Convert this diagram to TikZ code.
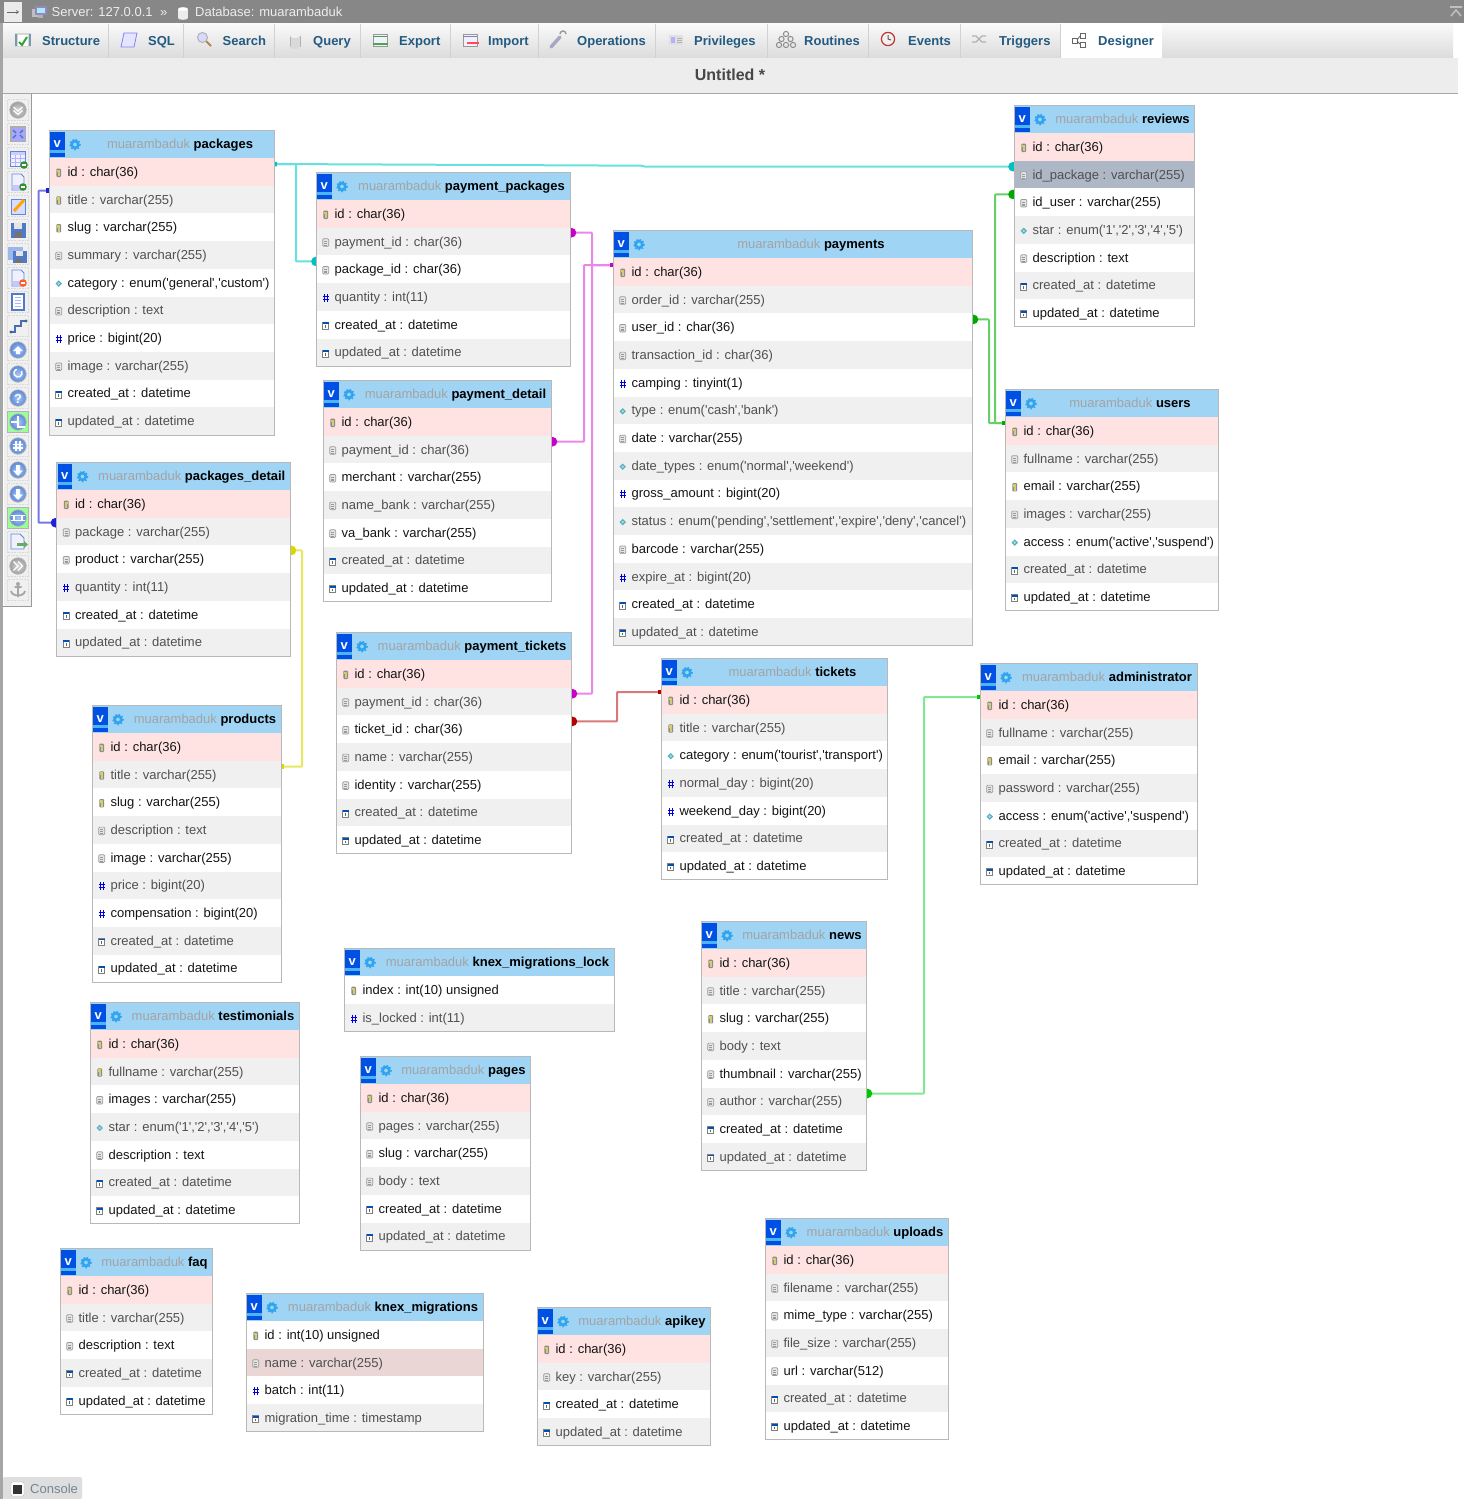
\documentclass[tikz,border=0pt]{standalone}
\usepackage{fontspec}
\usetikzlibrary{arrows.meta,shapes.geometric}
\newfontfamily\appfont{Liberation Sans}
\pgfdeclarelayer{bgl}\pgfdeclarelayer{connl}
\pgfsetlayers{bgl,connl,main}
\definecolor{rowpink}{HTML}{FFE3E3}
\definecolor{rowgray}{HTML}{F0F0F0}
\definecolor{rowsel}{HTML}{AEB7C5}
\definecolor{rowname}{HTML}{EBD6D6}
\definecolor{txgray}{HTML}{505050}
\definecolor{txdark}{HTML}{141414}
\definecolor{hdrlight}{HTML}{D4F1FF}
\definecolor{hdrmain}{HTML}{A0D4F4}
\definecolor{tabtx}{HTML}{235A81}
\definecolor{vblue}{HTML}{0050E4}
\definecolor{vstrip}{HTML}{4FB4F4}
\definecolor{gearblue}{HTML}{30A4F0}
\definecolor{blueball}{HTML}{5A88DC}
\definecolor{ballin}{HTML}{A8C6F2}
\definecolor{tooledge}{HTML}{9A9A9A}
\definecolor{diam}{HTML}{58AFC2}
\definecolor{lineteal}{HTML}{68E0E0}\definecolor{dotteal}{HTML}{00C0C0}
\definecolor{linemag}{HTML}{EA88EA}\definecolor{dotmag}{HTML}{C800C8}
\definecolor{linegreen}{HTML}{66D066}\definecolor{dotgreen}{HTML}{00A800}
\definecolor{linelime}{HTML}{80E890}\definecolor{dotlime}{HTML}{00C800}
\definecolor{lineblue}{HTML}{7878E4}\definecolor{dotblue}{HTML}{2020D8}
\definecolor{lineyel}{HTML}{E8E860}\definecolor{dotyel}{HTML}{D8D800}
\definecolor{linered}{HTML}{D87878}\definecolor{dotred}{HTML}{B80000}
\pgfdeclareverticalshading{hdrsh}{100bp}{color(0bp)=(hdrmain); color(78bp)=(hdrmain); color(92bp)=(hdrlight); color(100bp)=(hdrlight)}
\newcount\rowc
\tikzset{
 every node/.style={font=\appfont\fontsize{13}{15}\selectfont},
 rownode/.style={rectangle,inner sep=0pt,outer sep=0pt,minimum height=27.7pt,anchor=north west},
 hdrnode/.style={rectangle,inner sep=0pt,outer sep=0pt,minimum height=28pt,anchor=north west,shading=hdrsh},
 tblborder/.style={draw=black!28,line width=1pt},
 tabtext/.style={font=\appfont\bfseries\fontsize{13}{15}\selectfont,text=tabtx,inner sep=0pt,anchor=base west},
 barsep/.style={draw=black!18,line width=1pt},
 conn/.style={line width=2pt,rounded corners=0.8pt,line join=round},
 cteal/.style={conn,draw=lineteal,-{Square[length=3pt,width=4.5pt,color=dotteal]}},
 cmag/.style={conn,draw=linemag,-{Square[length=3pt,width=4.5pt,color=dotmag]}},
 cgreen/.style={conn,draw=linegreen,-{Square[length=3pt,width=4.5pt,color=dotgreen]}},
 clime/.style={conn,draw=linelime,-{Square[length=3pt,width=4.5pt,color=dotlime]}},
 cblue/.style={conn,draw=lineblue,-{Square[length=3pt,width=4.5pt,color=dotblue]}},
 cyel/.style={conn,draw=lineyel,-{Square[length=3pt,width=4.5pt,color=dotyel]}},
 cred/.style={conn,draw=linered,-{Square[length=3pt,width=4.5pt,color=dotred]}},
 slot/.style={draw=black!15,line width=.6pt,densely dotted},
 pagefill/.style={draw=blueball,line width=.8pt,fill=blue!6},
 ball/.style={inner color=ballin,outer color=blueball},
 grayball/.style={inner color=black!15,outer color=black!38},
}
% row icons
\newcommand\iconK[2]{\begin{scope}[shift={(#1,#2)}]
 \fill[black!45,rounded corners=1pt] (-2.4,-4.2) rectangle (2.4,4.2);
 \fill[yellow!75!black!75] (-1.4,-3.2) rectangle (1.4,-.4);
 \fill[yellow!65!black!60] (-1,-.4) rectangle (1,3.4);
 \end{scope}}
\newcommand\iconT[2]{\begin{scope}[shift={(#1,#2)}]
 \draw[black!40,fill=black!10,line width=.7pt,rounded corners=1pt] (-3,-3.8) rectangle (3,3.8);
 \draw[black!40,line width=.5pt] (-1.6,-1.4)--(1.6,-1.4) (-1.6,.6)--(1.6,.6) (-1.6,2.4)--(1.6,2.4);
 \end{scope}}
\newcommand\iconE[2]{\begin{scope}[shift={(#1,#2)}]
 \fill[diam] (0,-3.2)--(3.2,0)--(0,3.2)--(-3.2,0)--cycle;
 \fill[diam!50!white] (0,-1.4)--(1.4,0)--(0,1.4)--(-1.4,0)--cycle;
 \end{scope}}
\newcommand\iconN[2]{\begin{scope}[shift={(#1,#2)}]
 \draw[blue!85!black,line width=1pt] (-1.5,-4)--(-1.5,4) (1.5,-4)--(1.5,4) (-3.2,-1.5)--(3.2,-1.5) (-3.2,1.5)--(3.2,1.5);
 \end{scope}}
\newcommand\iconD[2]{\begin{scope}[shift={(#1,#2)}]
 \draw[black!50,fill=white,line width=.7pt] (-3,-3.2) rectangle (3,3.8);
 \fill[blue!55!cyan!70!black] (-3,-3.2) rectangle (3,-1.4);
 \draw[black!60,line width=.7pt] (0,-.4)--(0,2.4);
 \end{scope}}
% table
\newcommand\tbl[5]{\gdef\tn{#1}\gdef\txa{#2}\gdef\txb{#3}\gdef\ttop{#4}\global\rowc=0
 \pgfmathsetmacro\tw{#3-#2}
 \pgfmathsetmacro\tc{\tw-37}
 \node[hdrnode,minimum width=\tw pt] (#1) at (#2,#4)
  {\makebox[\tw pt][l]{\hspace{37pt}\makebox[\tc pt][c]{\rule[-3pt]{0pt}{14.6pt}\textcolor{black!36}{muarambaduk} \textcolor{black}{\bfseries #5}}}};
 \begin{scope}[shift={(#2,#4)}]
  \fill[vblue] (1,2) rectangle (15.5,27);
  \fill[vstrip] (1,20) rectangle (15.5,23);
  \draw[gearblue,line width=2.6pt] (26,14.5) circle (3.4);
  \draw[gearblue,line width=1.3pt,dash pattern=on 1.6pt off 1.9pt] (26,14.5) circle (5.2);
 \end{scope}
 \node[text=white,inner sep=0pt,font=\appfont\bfseries\fontsize{13}{15}\selectfont] (#1-v) at (#2+8.2,#4+14) {v};
}
\newcommand\row[3][]{%
 \pgfmathsetmacro\ry{\ttop+28+27.7*\the\rowc}%
 \pgfmathsetmacro\rc{\ry+14.8}%
 \pgfmathsetmacro\rix{\txa+9.7}%
 \ifnum\rowc=0 \def\rf{rowpink}\def\rt{txdark}\else\ifodd\rowc \def\rf{rowgray}\def\rt{txgray}\else\def\rf{white}\def\rt{txdark}\fi\fi
 \ifx&#1&\else\def\rf{#1}\fi
 \node[rownode,fill=\rf,text=\rt,minimum width=\tw pt] (\tn-\the\rowc) at (\txa,\ry)
  {\makebox[\tw pt][l]{\hspace{18.6pt}\rule[-3pt]{0pt}{15pt}#3}};
 \csname icon#2\endcsname{\rix}{\rc}%
 \global\advance\rowc by 1 }
\newcommand\tblend{\pgfmathsetmacro\rb{\ttop+28+27.7*\the\rowc}%
 \draw[tblborder] (\txa,\ttop) rectangle (\txb,\rb);}
\newcommand\jdot[2]{\fill[#1] #2 circle (4.8);}
% toolbar & tab icons
\newcommand\tball[2]{\shade[#2] (18,#1) circle (8.2);\draw[black!30,line width=.8pt] (18,#1) circle (8.2);}
\newcommand\tpage[2]{\begin{scope}[shift={(18,#1)}]\draw[pagefill] (-6,-8)--(3,-8)--(6,-5)--(6,8)--(-6,8)--cycle;\fill[blue!22!white] (-5.5,3) rectangle (5.5,7.5);\fill[#2] (5,5) circle (3.8);\fill[white] (3,4.4) rectangle (7,5.6);\end{scope}}
\begin{document}
\begin{tikzpicture}[x=1pt,y=-1pt,line cap=butt]
\useasboundingbox (0,0) rectangle (1464,1499);
\begin{pgfonlayer}{bgl}\fill[white] (0,0) rectangle (1464,1499);\end{pgfonlayer}
% chrome
\fill[black!35] (0,23) rectangle (3,1499);
\fill[black!47] (0,0) rectangle (1464,23);
\shade[top color=white!98!black,bottom color=black!14] (3,23) rectangle (1453,58);
\fill[white] (1060,23) rectangle (1162,58);
\fill[black!7] (3,58) rectangle (1458,93);
\draw[black!35,line width=1.4pt] (3,93.3)--(1458,93.3);
\foreach \sx in {108,183,274,360,450,538,655,767,868,960,1060}{\draw[barsep] (\sx,24)--(\sx,58);}
% top bar
\fill[black!8] (4,2) rectangle (22,22);
\draw[black!60,line width=.8pt,-{Straight Barb[length=2pt,width=3pt]}] (7,12)--(19,12);
\begin{scope}[shift={(40,12)}]
 \fill[black!25] (-8,-3) rectangle (2,5);\fill[blue!45!black!45] (-5,-6) rectangle (7,3);\fill[cyan!30] (-3,-4) rectangle (5,1);\fill[black!30] (-2,3) rectangle (3,6);
\end{scope}
\node[anchor=base west,inner sep=0pt,text=black!7] (srv) at (51.5,16.5) {Server: 127.0.0.1};
\node[anchor=base west,inner sep=0pt,text=black!7] (sep) at (160,16.5) {»};
\begin{scope}[shift={(183,13)}]
 \fill[black!7] (-5,-4) rectangle (5,5);\fill[white] (0,-4) ellipse (5 and 1.8);\fill[black!7] (0,5) ellipse (5 and 1.8);
\end{scope}
\node[anchor=base west,inner sep=0pt,text=black!7] (dbn) at (195,16.5) {Database: muarambaduk};
\begin{scope}[shift={(1456,12)}]
 \draw[black!25,line width=1.6pt] (-6,-5)--(6,-5) (-5,4)--(0,-2)--(5,4);
\end{scope}
% tabs
\node[tabtext] (tab1) at (42,45.5) {Structure};
\node[tabtext] (tab2) at (148,45.5) {SQL};
\node[tabtext] (tab3) at (222.5,45.5) {Search};
\node[tabtext] (tab4) at (313,45.5) {Query};
\node[tabtext] (tab5) at (399,45.5) {Export};
\node[tabtext] (tab6) at (488,45.5) {Import};
\node[tabtext] (tab7) at (577,45.5) {Operations};
\node[tabtext] (tab8) at (694,45.5) {Privileges};
\node[tabtext] (tab9) at (804,45.5) {Routines};
\node[tabtext] (tab10) at (908,45.5) {Events};
\node[tabtext] (tab11) at (999,45.5) {Triggers};
\node[tabtext] (tab12) at (1098,45.5) {Designer};
% tab icons
\begin{scope}[shift={(23,40)}]\fill[black!16] (-8,-7) rectangle (8,7);\fill[white] (-5,-5) rectangle (5,6);\draw[cyan!50!black!70,line width=2pt] (-7,-6)--(-7,6) (7,-6)--(7,6);\draw[green!55!black!80,line width=2pt] (-4,2)--(-1,5)--(4,-3);\end{scope}
\begin{scope}[shift={(129,40)}]\draw[blue!50,fill=blue!10,line width=.8pt] (-5,-7)--(8,-7)--(5,7)--(-8,7)--cycle;\end{scope}
\begin{scope}[shift={(204,39)}]\draw[orange!60!black!70,line width=2pt] (2,2)--(7,7);\draw[black!30,fill=blue!15,line width=1pt] (-1.5,-1.5) circle (5);\end{scope}
\begin{scope}[shift={(295,41)}]\fill[black!15] (-5,-5) rectangle (5,6);\draw[black!30] (-5,-5)--(-5,6) (5,-5)--(5,6);\fill[black!15] (0,6) ellipse (5 and 2);\fill[black!6] (0,-5) ellipse (5 and 2);\end{scope}
\begin{scope}[shift={(380,40)}]\draw[black!40,fill=blue!6,line width=.8pt] (-7,-6) rectangle (7,6);\fill[green!45!black!70] (-7,-4) rectangle (7,-2.6);\draw[green!50!black!70,line width=1.2pt] (-7,4)--(8,4);\end{scope}
\begin{scope}[shift={(470,40)}]\draw[black!40,fill=blue!6,line width=.8pt] (-7,-6) rectangle (7,6);\fill[blue!40!black!50] (-7,-4) rectangle (7,-2.6);\draw[red!70,line width=1.5pt] (-3,3)--(9,3);\end{scope}
\begin{scope}[shift={(557,40)}]\draw[blue!35!black!35,line width=3.4pt,line cap=round] (-6,7)--(3,-3);\draw[black!40,line width=1.4pt,fill=none] (3,-6) arc (180:360:3);\end{scope}
\begin{scope}[shift={(676,40)}]\fill[black!12] (-7,-5) rectangle (7,5);\fill[blue!30] (-5,-3) rectangle (-1,3);\draw[black!30,line width=.8pt] (1,-2)--(6,-2) (1,0)--(6,0) (1,2)--(6,2);\end{scope}
\begin{scope}[shift={(786,40)}]\foreach \gx/\gy in {0/-6,-4.5/-1,4.5/-1,-7/5,0/5,7/5}{\draw[black!45,line width=1pt] (\gx,\gy) circle (2.6);}\end{scope}
\begin{scope}[shift={(888,39)}]\draw[red!70!black!80,line width=1.2pt,fill=black!6] (0,0) circle (6.6);\draw[black!65,line width=1pt] (0,-4)--(0,0)--(3,1);\end{scope}
\begin{scope}[shift={(979,39)}]\draw[black!30,line width=1.2pt] (-7,-3)--(-3,-3)--(3,3)--(7,3) (-7,3)--(-3,3)--(3,-3)--(7,-3);\end{scope}
\begin{scope}[shift={(1079,40)}]\draw[black!60,fill=white,line width=.8pt] (-7,-2) rectangle (-2,3) (1,-7) rectangle (6,-2) (1,2) rectangle (6,7);\draw[black!60,line width=.8pt] (-2,0)--(1,-4) (-2,1)--(1,4);\end{scope}
\node[font=\appfont\bfseries\fontsize{16}{18}\selectfont,text=black!72,inner sep=0pt] (ttl) at (730,75) {Untitled *};
% toolbar
\fill[black!6] (4,94) rectangle (31,606);
\draw[tooledge,line width=1pt] (31,94)--(31,606)--(3,606);
\foreach \i in {0,...,20}{\pgfmathsetmacro\sy{110+24*\i}\draw[slot] (7.5,\sy-10.5) rectangle (28.5,\sy+10.5);}
\fill[green!40!white] (7.5,411.5) rectangle (28.5,432.5);\draw[black!30] (7.5,411.5) rectangle (28.5,432.5);
\fill[green!40!white] (7.5,507.5) rectangle (28.5,528.5);\draw[black!30] (7.5,507.5) rectangle (28.5,528.5);
\tball{110}{grayball}\draw[white,line width=1.2pt] (13.5,107)--(18,111)--(22.5,107) (13.5,110.5)--(18,114.5)--(22.5,110.5);
\fill[black!32] (10,126) rectangle (26,142);\fill[blue!35!white] (11.5,127.5) rectangle (24.5,140.5);\draw[blueball!80!black,line width=1.4pt] (13,130)--(16,133) (23,130)--(20,133) (13,138)--(16,135) (23,138)--(20,135);
\draw[pagefill] (10,151) rectangle (25,166);\fill[blue!20] (10.5,151.5) rectangle (24.5,154.5);\draw[blue!30,line width=.5pt] (15,155)--(15,166) (20,155)--(20,166) (10,158)--(25,158) (10,162)--(25,162);\fill[green!45!black!80] (24,165) circle (3.8);\fill[white] (22,164.4) rectangle (26,165.6);
\tpage{182}{green!45!black!80}
\begin{scope}[shift={(18,206)}]\draw[pagefill,fill=blue!14] (-7,-7) rectangle (7,8);\draw[orange!70!yellow,line width=3pt] (-4,5)--(6,-6);\end{scope}
\begin{scope}[shift={(18,230)}]\fill[blueball!90!black] (-7.5,-7.5) rectangle (7.5,7.5);\fill[black!10] (-4,-7.5) rectangle (4,-1);\fill[black!55] (-3,2) rectangle (4,7.5);\end{scope}
\begin{scope}[shift={(18,254)}]\fill[blueball!60!white] (-10,-7.5) rectangle (5,6);\fill[blueball!90!black] (-5,-3) rectangle (9,9);\fill[black!10] (-2,-3) rectangle (5,2);\fill[black!55] (-2,5) rectangle (4,9);\end{scope}
\tpage{278}{red!50!orange!85}
\begin{scope}[shift={(18,302)}]\draw[blueball!90!black,fill=white,line width=1.2pt] (-6,-8) rectangle (6,8);\draw[blue!30,line width=1pt] (-3,-5)--(3,-5) (-3,-2)--(3,-2) (-3,1)--(3,1) (-3,4)--(3,4);\end{scope}
\draw[blueball!80!black,line width=1.4pt] (11,332)--(15,332)--(15,326)--(21,326)--(21,321)--(26,321);\fill[blueball!70!black] (11,332) circle (1.6) (26,321) circle (1.6);
\tball{350}{ball}\fill[white] (18,346)--(23,351)--(20,351)--(20,354)--(16,354)--(16,351)--(13,351)--cycle;
\tball{374}{ball}\draw[white,line width=1.5pt] (21.5,371) arc (-30:250:4);
\tball{398}{ball}\node[text=white,inner sep=0pt,font=\appfont\bfseries\fontsize{13}{15}\selectfont] (tbq) at (18,398.5) {?};
\tball{422}{ball}\draw[white,line width=1.3pt] (11,422)--(18,422)--(18,427)--(25,427) (18,416)--(18,422);
\tball{446}{ball}\draw[white,line width=1.1pt] (16,441)--(16,451) (20,441)--(20,451) (13,444.5)--(23,444.5) (13,448)--(23,448);
\tball{470}{ball}\fill[white] (18,476)--(13,470.5)--(16,470.5)--(16,465)--(20,465)--(20,470.5)--(23,470.5)--cycle;
\tball{494}{ball}\fill[white] (18,500)--(13,494.5)--(16,494.5)--(16,489)--(20,489)--(20,494.5)--(23,494.5)--cycle;
\tball{518}{ball}\draw[white,line width=1.2pt] (11,515.5)--(25,515.5) (11,520.5)--(25,520.5) (14,515.5)--(14,520.5) (22,515.5)--(22,520.5);
\begin{scope}[shift={(18,542)}]\draw[pagefill] (-7,-8)--(2,-8)--(6,-4)--(6,7)--(-7,7)--cycle;\fill[green!45!black!60] (-1,1) rectangle (7,4);\fill[green!45!black!60] (6,-1)--(10,2.5)--(6,6)--cycle;\end{scope}
\tball{566}{grayball}\draw[white,line width=1.3pt] (13.5,561.5)--(18,566)--(13.5,570.5) (18,561.5)--(22.5,566)--(18,570.5);
\begin{scope}[shift={(18,590)}]\draw[black!35,line width=1.8pt] (0,-5)--(0,7) (-3.5,-3)--(3.5,-3) (-7,1) .. controls (-6,7) and (6,7) .. (7,1);\fill[black!35] (0,-6) circle (2);\end{scope}
% console
\fill[black!13,rounded corners=2pt] (3,1477) -- (82,1477) -- (82,1499) -- (3,1499) -- cycle;
\draw[black!30,fill=white,rounded corners=1pt] (11,1482) rectangle (24,1496);
\fill[black!80] (13,1485) rectangle (22,1494);
\node[anchor=base west,inner sep=0pt,text=tabtx!60!black!60] (cons) at (30,1493.5) {Console};
% tables
\tbl{pk}{49}{274}{130}{packages}
\row{K}{id : char(36)}\row{K}{title : varchar(255)}\row{K}{slug : varchar(255)}\row{T}{summary : varchar(255)}\row{E}{category : enum('general','custom')}\row{T}{description : text}\row{N}{price : bigint(20)}\row{T}{image : varchar(255)}\row{D}{created\_at : datetime}\row{D}{updated\_at : datetime}\tblend
\tbl{pp}{316}{570}{172}{payment\_packages}
\row{K}{id : char(36)}\row{T}{payment\_id : char(36)}\row{T}{package\_id : char(36)}\row{N}{quantity : int(11)}\row{D}{created\_at : datetime}\row{D}{updated\_at : datetime}\tblend
\tbl{pay}{613}{972}{230}{payments}
\row{K}{id : char(36)}\row{T}{order\_id : varchar(255)}\row{T}{user\_id : char(36)}\row{T}{transaction\_id : char(36)}\row{N}{camping : tinyint(1)}\row{E}{type : enum('cash','bank')}\row{T}{date : varchar(255)}\row{E}{date\_types : enum('normal','weekend')}\row{N}{gross\_amount : bigint(20)}\row{E}{status : enum('pending','settlement','expire','deny','cancel')}\row{T}{barcode : varchar(255)}\row{N}{expire\_at : bigint(20)}\row{D}{created\_at : datetime}\row{D}{updated\_at : datetime}\tblend
\tbl{rev}{1014}{1194}{105}{reviews}
\row{K}{id : char(36)}\row[rowsel]{T}{id\_package : varchar(255)}\row{T}{id\_user : varchar(255)}\row{E}{star : enum('1','2','3','4','5')}\row{T}{description : text}\row{D}{created\_at : datetime}\row{D}{updated\_at : datetime}\tblend
\tbl{usr}{1005}{1218}{389}{users}
\row{K}{id : char(36)}\row{T}{fullname : varchar(255)}\row{K}{email : varchar(255)}\row{T}{images : varchar(255)}\row{E}{access : enum('active','suspend')}\row{D}{created\_at : datetime}\row{D}{updated\_at : datetime}\tblend
\tbl{pd}{323}{551}{380}{payment\_detail}
\row{K}{id : char(36)}\row{T}{payment\_id : char(36)}\row{T}{merchant : varchar(255)}\row{T}{name\_bank : varchar(255)}\row{T}{va\_bank : varchar(255)}\row{D}{created\_at : datetime}\row{D}{updated\_at : datetime}\tblend
\tbl{pkd}{56.5}{290}{462}{packages\_detail}
\row{K}{id : char(36)}\row{T}{package : varchar(255)}\row{T}{product : varchar(255)}\row{N}{quantity : int(11)}\row{D}{created\_at : datetime}\row{D}{updated\_at : datetime}\tblend
\tbl{pt}{336}{571}{632}{payment\_tickets}
\row{K}{id : char(36)}\row{T}{payment\_id : char(36)}\row{T}{ticket\_id : char(36)}\row{T}{name : varchar(255)}\row{T}{identity : varchar(255)}\row{D}{created\_at : datetime}\row{D}{updated\_at : datetime}\tblend
\tbl{tk}{661}{887}{658}{tickets}
\row{K}{id : char(36)}\row{K}{title : varchar(255)}\row{E}{category : enum('tourist','transport')}\row{N}{normal\_day : bigint(20)}\row{N}{weekend\_day : bigint(20)}\row{D}{created\_at : datetime}\row{D}{updated\_at : datetime}\tblend
\tbl{adm}{980}{1197}{663}{administrator}
\row{K}{id : char(36)}\row{T}{fullname : varchar(255)}\row{K}{email : varchar(255)}\row{T}{password : varchar(255)}\row{E}{access : enum('active','suspend')}\row{D}{created\_at : datetime}\row{D}{updated\_at : datetime}\tblend
\tbl{prd}{92}{281}{705}{products}
\row{K}{id : char(36)}\row{K}{title : varchar(255)}\row{K}{slug : varchar(255)}\row{T}{description : text}\row{T}{image : varchar(255)}\row{N}{price : bigint(20)}\row{N}{compensation : bigint(20)}\row{D}{created\_at : datetime}\row{D}{updated\_at : datetime}\tblend
\tbl{tst}{90}{299}{1002}{testimonials}
\row{K}{id : char(36)}\row{K}{fullname : varchar(255)}\row{T}{images : varchar(255)}\row{E}{star : enum('1','2','3','4','5')}\row{T}{description : text}\row{D}{created\_at : datetime}\row{D}{updated\_at : datetime}\tblend
\tbl{lck}{344}{614}{948}{knex\_migrations\_lock}
\row[white]{K}{index : int(10) unsigned}\row{N}{is\_locked : int(11)}\tblend
\tbl{pgs}{360}{530}{1056}{pages}
\row{K}{id : char(36)}\row{T}{pages : varchar(255)}\row{T}{slug : varchar(255)}\row{T}{body : text}\row{D}{created\_at : datetime}\row{D}{updated\_at : datetime}\tblend
\tbl{nws}{701}{866}{921}{news}
\row{K}{id : char(36)}\row{T}{title : varchar(255)}\row{K}{slug : varchar(255)}\row{T}{body : text}\row{T}{thumbnail : varchar(255)}\row{T}{author : varchar(255)}\row{D}{created\_at : datetime}\row{D}{updated\_at : datetime}\tblend
\tbl{faq}{60}{212}{1248}{faq}
\row{K}{id : char(36)}\row{T}{title : varchar(255)}\row{T}{description : text}\row{D}{created\_at : datetime}\row{D}{updated\_at : datetime}\tblend
\tbl{knx}{246}{483}{1293}{knex\_migrations}
\row[white]{K}{id : int(10) unsigned}\row[rowname]{T}{name : varchar(255)}\row{N}{batch : int(11)}\row{D}{migration\_time : timestamp}\tblend
\tbl{api}{537}{710}{1307}{apikey}
\row{K}{id : char(36)}\row{T}{key : varchar(255)}\row{D}{created\_at : datetime}\row{D}{updated\_at : datetime}\tblend
\tbl{upl}{765}{948}{1218}{uploads}
\row{K}{id : char(36)}\row{T}{filename : varchar(255)}\row{T}{mime\_type : varchar(255)}\row{T}{file\_size : varchar(255)}\row{T}{url : varchar(512)}\row{D}{created\_at : datetime}\row{D}{updated\_at : datetime}\tblend
% connectors
\begin{pgfonlayer}{connl}
\draw[cteal] ([yshift=-6pt]rev-1.north west) -- ++(-369,0) -- ++(-3,-1) -- ([yshift=-6pt]pk-0.north east);
\draw[cteal] ([yshift=-6pt]pp-2.north west) -- ++(-20,0) |- ([yshift=-6pt]pk-0.north east);
\draw[cblue] ([yshift=-5pt]pkd-1.north west) -- ++(-18,0) |- ([yshift=-5pt]pk-1.north west);
\draw[cmag] ([yshift=-5pt]pp-1.north east) -- ++(22,0) |- ([yshift=-7pt]pay-0.north west);
\draw[cmag] ([yshift=-6pt]pd-1.north east) -- ++(33,0) |- ([yshift=-7pt]pay-0.north west);
\draw[cmag] ([yshift=-6pt]pt-1.north east) -- ++(21,0) |- ([yshift=-7pt]pay-0.north west);
\draw[cgreen] ([yshift=-6pt]pay-2.north east) -- ++(17,0) |- ([yshift=-6pt]usr-0.north west);
\draw[cgreen] ([yshift=-6pt]rev-2.north west) -- ++(-19,0) |- ([yshift=-6pt]usr-0.north west);
\draw[cyel] ([yshift=-5pt]pkd-2.north east) -- ++(12,0) |- ([yshift=-6pt]prd-1.north east);
\draw[cred] ([yshift=-6pt]pt-2.north east) -- ++(46,0) |- ([yshift=-6pt]tk-0.north west);
\draw[clime] ([yshift=-6pt]nws-5.north east) -- ++(58,0) |- ([yshift=-6pt]adm-0.north west);
\jdot{dotteal}{([xshift=-1pt,yshift=-6pt]rev-1.north west)}
\jdot{dotteal}{([yshift=-6pt]pp-2.north west)}
\jdot{dotblue}{([xshift=-1pt,yshift=-5pt]pkd-1.north west)}
\jdot{dotmag}{([xshift=1.5pt,yshift=-5pt]pp-1.north east)}
\jdot{dotmag}{([xshift=1.5pt,yshift=-6pt]pd-1.north east)}
\jdot{dotmag}{([xshift=1.5pt,yshift=-6pt]pt-1.north east)}
\jdot{dotgreen}{([xshift=1.5pt,yshift=-6pt]pay-2.north east)}
\jdot{dotgreen}{([xshift=-1pt,yshift=-6pt]rev-2.north west)}
\jdot{dotyel}{([xshift=1.5pt,yshift=-5pt]pkd-2.north east)}
\jdot{dotred}{([xshift=1.5pt,yshift=-6pt]pt-2.north east)}
\jdot{dotlime}{([xshift=1.5pt,yshift=-6pt]nws-5.north east)}
\end{pgfonlayer}
\end{tikzpicture}
\end{document}
